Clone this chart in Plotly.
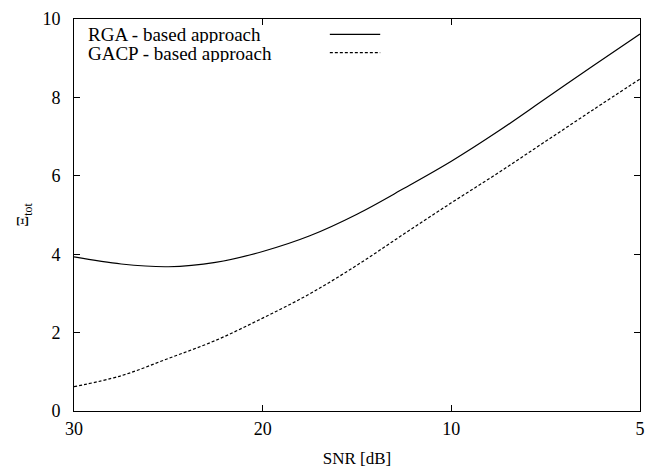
import numpy as np
import plotly.graph_objects as go

# SNR values (dB) at which curves are sampled
snr = [30, 27.5, 25, 22.5, 20, 17.5, 15, 12.5, 10, 8.75, 7.5, 6.25, 5]
rga = [3.93, 3.75, 3.68, 3.79, 4.07, 4.47, 5.02, 5.68, 6.37, 7.14, 7.97, 8.80, 9.62]
gacp = [0.62, 0.90, 1.34, 1.80, 2.37, 2.99, 3.72, 4.52, 5.31, 6.08, 6.88, 7.68, 8.47]

# axis ticks: the SNR axis is drawn with equally spaced ticks
tick_snr = [30, 20, 10, 5]
tick_labels = ["30", "20", "10", "5"]
tick_pos = list(range(len(tick_snr)))
y_ticks = [0, 2, 4, 6, 8, 10]


def snr_to_axis(v):
    # piecewise-linear scale between the equally spaced tick marks
    return np.interp(-np.asarray(v, dtype=float), [-t for t in tick_snr], tick_pos)


FONT = "Liberation Serif, Times New Roman, serif"

fig = go.Figure()
fig.add_trace(go.Scatter(x=snr_to_axis(snr), y=rga, mode="lines",
                         line=dict(color="black", width=1.2, shape="spline", smoothing=1.0),
                         name="RGA - based approach", showlegend=False))
fig.add_trace(go.Scatter(x=snr_to_axis(snr), y=gacp, mode="lines",
                         line=dict(color="black", width=1.2, dash="3px,2px", shape="spline", smoothing=1.0),
                         name="GACP - based approach", showlegend=False))

axis_common = dict(showgrid=False, zeroline=False, showline=True, linecolor="black",
                   linewidth=1, mirror="ticks", ticks="inside", ticklen=6,
                   tickcolor="black", tickwidth=1, ticklabeloverflow="allow",
                   tickfont=dict(family=FONT, size=18, color="black"))

fig.update_xaxes(range=[0, 3], tickvals=tick_pos, ticktext=tick_labels,
                 title=dict(text="SNR [dB]", font=dict(family=FONT, size=17, color="black"), standoff=14),
                 ticklabelstandoff=1, **axis_common)
fig.update_yaxes(range=[0, 10], tickvals=y_ticks,
                 title=dict(text="Ξ<sub>tot</sub>", font=dict(family=FONT, size=17, color="black"), standoff=9),
                 ticklabelstandoff=9, **axis_common)

# gnuplot-style key: text on the left, line sample on the right
legend_items = [("RGA - based approach", "solid"), ("GACP - based approach", "3px,2px")]
for i, (label, dash) in enumerate(legend_items):
    yp = 0.961 - i * 0.047
    fig.add_annotation(x=0.021, y=yp, xref="paper", yref="paper", text=label,
                       showarrow=False, xanchor="left", yanchor="middle",
                       height=18, valign="middle",
                       font=dict(family=FONT, size=19, color="black"))
    fig.add_shape(type="line", xref="paper", yref="paper", x0=0.452, x1=0.541,
                  y0=yp, y1=yp, line=dict(color="black", width=1.2, dash=dash))

fig.update_layout(width=647, height=470, plot_bgcolor="white", paper_bgcolor="white",
                  margin=dict(l=74, r=2, t=19, b=59),
                  font=dict(family=FONT, color="black"))

fig.write_html("out.html", config={"displayModeBar": False},
               post_script="document.body.style.margin='0';document.body.style.overflow='hidden';")
